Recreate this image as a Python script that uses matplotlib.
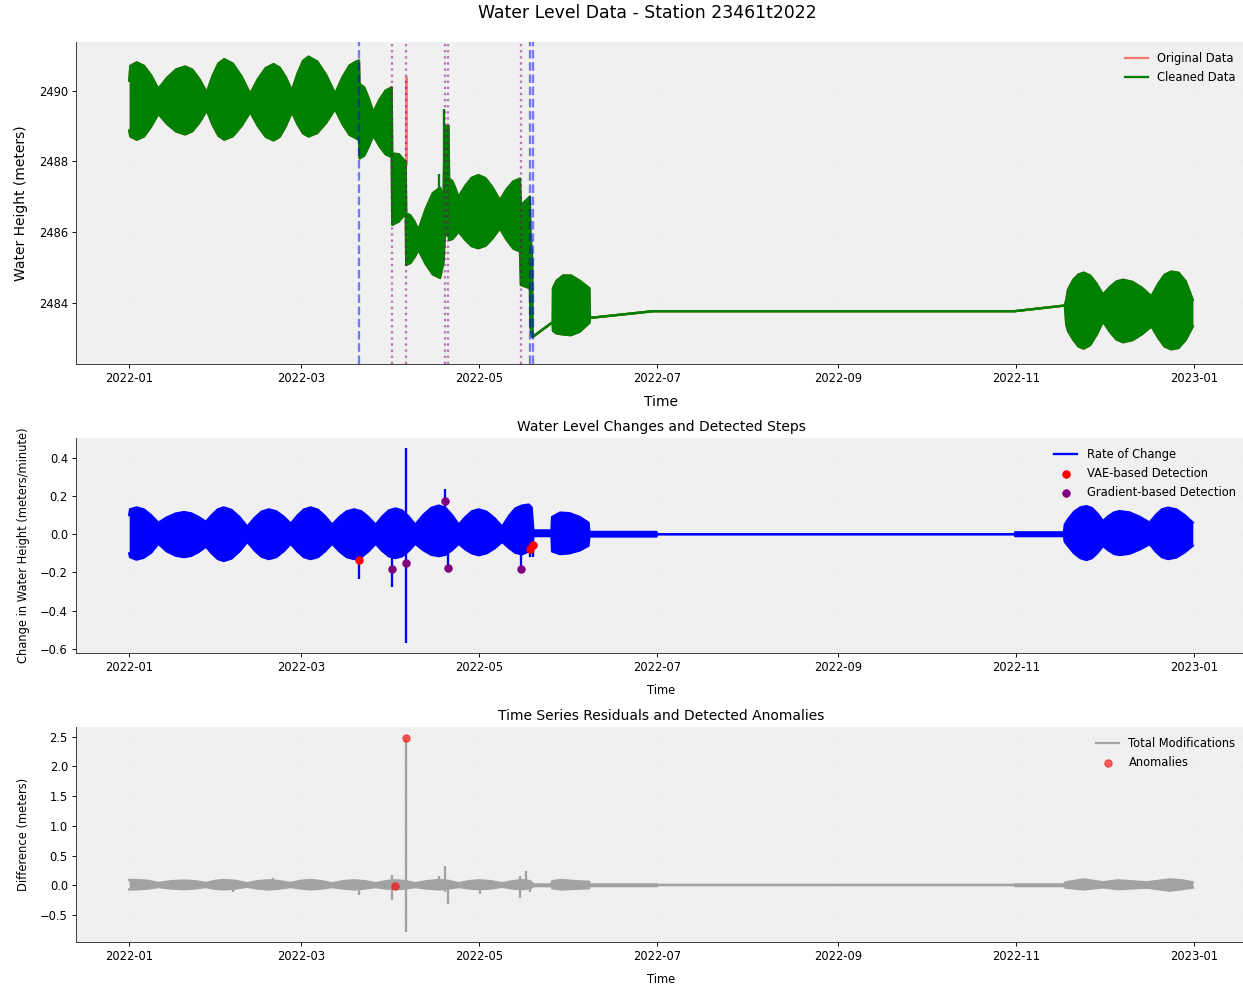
import matplotlib.pyplot as plt
import matplotlib.dates as mdates
import numpy as np
import pandas as pd

# Days since 2022-01-01 for every envelope knot; each band is drawn between
# the upper and lower envelope of the (dense, tidal) signal.
level_days = [0.0, 0.4, 2.6, 5.07, 7.53, 10.0, 13.07, 16.13, 19.2, 21.67, 24.13, 26.6,
              28.6, 30.6, 32.6, 35.57, 38.53, 41.5, 44.17, 46.83, 49.5, 51.6, 53.7, 55.8,
              57.7, 59.6, 61.5, 64.53, 67.57, 70.6, 73.07, 75.53, 78.0, 78.8, 79.0, 80.6,
              82.1, 83.7, 85.8, 87.9, 90.0, 90.2, 92.5, 94.8, 95.0, 96.4, 97.8, 99.2,
              101.7, 104.1, 106.6, 107.8, 108.2, 109.5, 109.7, 110.8, 111.8, 112.9, 115.2,
              117.4, 119.7, 122.2, 124.6, 127.1, 129.4, 131.7, 134.0, 134.3, 137.4, 137.6,
              138.2, 138.3, 145.2, 145.3, 146.5, 148.8, 151.5, 154.5, 157.8, 158.0, 179.7,
              303.6, 320.8, 321.3, 321.9, 323.7, 325.5, 327.3, 329.5, 331.7, 333.9, 336.2,
              338.5, 340.8, 344.0, 347.3, 350.5, 352.8, 355.0, 357.3, 359.8, 362.3, 364.7]
level_upper = [2490.28, 2490.70, 2490.80, 2490.70, 2490.43, 2490.05, 2490.37, 2490.60,
               2490.68, 2490.59, 2490.32, 2489.95, 2490.42, 2490.77, 2490.89, 2490.76,
               2490.40, 2489.91, 2490.33, 2490.64, 2490.75, 2490.65, 2490.38, 2490.00,
               2490.48, 2490.84, 2490.96, 2490.82, 2490.44, 2489.91, 2490.37, 2490.71,
               2490.83, 2490.85, 2490.19, 2490.09, 2489.79, 2489.39, 2489.74, 2490.00,
               2490.09, 2488.22, 2488.20, 2487.98, 2486.53, 2486.47, 2486.30, 2486.06,
               2486.66, 2487.10, 2487.25, 2487.00, 2489.00, 2489.00, 2487.51, 2487.44,
               2487.25, 2486.99, 2487.30, 2487.53, 2487.61, 2487.52, 2487.26, 2486.90,
               2487.21, 2487.43, 2487.51, 2486.75, 2487.00, 2485.96, 2485.20, 2483.03,
               2483.45, 2484.41, 2484.62, 2484.77, 2484.77, 2484.62, 2484.41, 2483.57,
               2483.76, 2483.76, 2483.92, 2484.08, 2484.37, 2484.65, 2484.80, 2484.85,
               2484.77, 2484.54, 2484.23, 2484.44, 2484.60, 2484.65, 2484.59, 2484.42,
               2484.18, 2484.53, 2484.79, 2484.88, 2484.85, 2484.60, 2484.08]
level_lower = [2488.87, 2488.70, 2488.61, 2488.70, 2488.98, 2489.34, 2489.05, 2488.84,
               2488.76, 2488.85, 2489.10, 2489.44, 2489.03, 2488.72, 2488.61, 2488.71,
               2489.00, 2489.39, 2488.99, 2488.69, 2488.59, 2488.69, 2488.99, 2489.39,
               2489.05, 2488.79, 2488.70, 2488.80, 2489.09, 2489.48, 2489.06, 2488.75,
               2488.64, 2488.60, 2488.08, 2488.16, 2488.41, 2488.73, 2488.43, 2488.20,
               2488.12, 2486.20, 2486.30, 2486.53, 2485.07, 2485.12, 2485.28, 2485.49,
               2485.09, 2484.80, 2484.70, 2485.15, 2485.90, 2485.90, 2485.77, 2485.80,
               2485.89, 2486.01, 2485.78, 2485.60, 2485.54, 2485.61, 2485.82, 2486.10,
               2485.78, 2485.53, 2485.45, 2484.50, 2484.41, 2483.30, 2483.03, 2483.03,
               2483.45, 2483.20, 2483.13, 2483.10, 2483.08, 2483.18, 2483.43, 2483.57,
               2483.76, 2483.76, 2483.92, 2483.38, 2483.20, 2482.95, 2482.76, 2482.70,
               2482.80, 2483.09, 2483.47, 2483.18, 2482.96, 2482.88, 2482.94, 2483.11,
               2483.33, 2483.01, 2482.76, 2482.68, 2482.72, 2482.95, 2483.33]

# isolated spikes (day, bottom, top)
original_spike = (94.85, 2487.9, 2490.42)
cleaned_spike_days = [106.4, 108.1]
cleaned_spike_low = [2486.9, 2487.0]
cleaned_spike_high = [2487.65, 2489.48]

rate_days = [0.0, 0.3, 2.5, 5.0, 7.5, 10.0, 12.9, 15.9, 18.8, 21.3, 23.8, 26.3, 28.3,
             30.4, 32.4, 35.1, 37.8, 40.5, 43.0, 45.4, 47.9, 50.4, 52.9, 55.4, 57.7,
             59.9, 62.2, 64.7, 67.1, 69.6, 72.1, 74.6, 77.1, 79.6, 82.0, 84.5, 86.8,
             89.0, 91.3, 93.6, 95.8, 98.1, 100.8, 103.5, 106.2, 108.5, 110.7, 113.0,
             115.3, 117.5, 119.8, 122.5, 125.2, 127.9, 130.2, 132.4, 134.7, 137.0,
             138.0, 138.6, 144.8, 145.0, 147.7, 151.0, 154.5, 157.5, 157.8, 180.8,
             181.0, 303.6, 303.8, 320.5, 320.8, 321.9, 324.0, 326.1, 328.2, 330.1,
             332.0, 333.9, 335.8, 337.7, 339.6, 343.0, 346.5, 349.9, 352.0, 354.1,
             356.2, 359.0, 361.9, 364.7]
rate_upper = [0.10, 0.13, 0.14, 0.13, 0.10, 0.06, 0.088, 0.108, 0.116, 0.109, 0.09,
              0.065, 0.10, 0.13, 0.14, 0.127, 0.09, 0.04, 0.085, 0.118, 0.13, 0.12,
              0.093, 0.055, 0.098, 0.129, 0.14, 0.128, 0.095, 0.05, 0.09, 0.12, 0.13,
              0.12, 0.09, 0.05, 0.093, 0.124, 0.135, 0.124, 0.093, 0.05, 0.10, 0.137,
              0.15, 0.137, 0.10, 0.05, 0.09, 0.12, 0.13, 0.118, 0.085, 0.04, 0.095,
              0.135, 0.15, 0.155, 0.14, 0.02, 0.02, 0.09, 0.113, 0.11, 0.09, 0.06,
              0.012, 0.012, 0.0, 0.0, 0.01, 0.01, 0.05, 0.078, 0.118, 0.14, 0.147,
              0.137, 0.108, 0.069, 0.095, 0.114, 0.121, 0.114, 0.091, 0.061, 0.10,
              0.13, 0.139, 0.13, 0.10, 0.061]
rate_lower = [-0.10, -0.12, -0.133, -0.123, -0.097, -0.05, -0.09, -0.112, -0.12, -0.113,
              -0.093, -0.065, -0.10, -0.13, -0.14, -0.127, -0.09, -0.04, -0.085, -0.118,
              -0.13, -0.12, -0.09, -0.05, -0.09, -0.12, -0.13, -0.12, -0.09, -0.05,
              -0.09, -0.12, -0.13, -0.12, -0.09, -0.05, -0.088, -0.115, -0.125, -0.115,
              -0.088, -0.05, -0.083, -0.107, -0.115, -0.107, -0.083, -0.05, -0.08,
              -0.10, -0.11, -0.10, -0.075, -0.04, -0.072, -0.097, -0.105, -0.09, -0.09,
              -0.01, -0.01, -0.09, -0.104, -0.10, -0.085, -0.06, -0.012, -0.012, 0.0,
              0.0, -0.01, -0.01, -0.04, -0.061, -0.10, -0.125, -0.135, -0.125, -0.098,
              -0.061, -0.085, -0.103, -0.109, -0.102, -0.08, -0.052, -0.091, -0.12,
              -0.13, -0.122, -0.095, -0.06]

rate_spike_days = [78.8, 90.2, 94.85, 108.4, 109.2, 134.3, 137.6, 138.3]
rate_spike_low = [-0.232, -0.275, -0.570, 0.0, -0.178, -0.184, -0.12, -0.12]
rate_spike_high = [0.0, 0.0, 0.452, 0.235, 0.0, 0.0, 0.0, 0.0]

vae_days = [78.8, 137.6, 138.3]
vae_rate = [-0.133, -0.076, -0.054]
grad_days = [90.2, 94.85, 108.4, 109.2, 134.3]
grad_rate = [-0.184, -0.152, 0.175, -0.178, -0.184]

resid_days = [0.0, 2.5, 6.5, 10.0, 14.5, 18.8, 22.5, 26.3, 29.5, 32.4, 36.5, 40.5, 44.0,
              47.9, 51.5, 55.4, 58.8, 62.2, 66.0, 69.6, 73.5, 77.1, 80.8, 84.5, 88.0,
              91.3, 94.7, 98.1, 102.0, 106.2, 109.5, 113.0, 116.5, 119.8, 124.0, 127.9,
              131.5, 134.7, 137.5, 138.6, 144.8, 145.0, 148.0, 153.0, 157.7, 157.9,
              181.0, 181.2, 303.6, 303.8, 320.5, 321.0, 327.2, 334.0, 339.0, 348.9,
              356.8, 361.0, 364.7]
resid_upper = [0.09, 0.09, 0.075, 0.04, 0.07, 0.08, 0.07, 0.04, 0.075, 0.09, 0.075, 0.035,
               0.07, 0.085, 0.07, 0.04, 0.075, 0.09, 0.07, 0.035, 0.07, 0.085, 0.07,
               0.035, 0.07, 0.085, 0.07, 0.035, 0.07, 0.09, 0.075, 0.035, 0.07, 0.085,
               0.07, 0.035, 0.07, 0.09, 0.07, 0.015, 0.015, 0.07, 0.09, 0.07, 0.06,
               0.015, 0.015, 0.005, 0.005, 0.015, 0.015, 0.05, 0.10, 0.05, 0.085, 0.05,
               0.10, 0.085, 0.05]
resid_lower = [-0.07, -0.07, -0.055, -0.03, -0.055, -0.065, -0.055, -0.03, -0.06, -0.07,
               -0.055, -0.025, -0.055, -0.07, -0.055, -0.03, -0.055, -0.07, -0.055,
               -0.03, -0.055, -0.07, -0.055, -0.03, -0.055, -0.065, -0.055, -0.03,
               -0.055, -0.07, -0.055, -0.03, -0.055, -0.065, -0.055, -0.025, -0.055,
               -0.065, -0.05, -0.015, -0.015, -0.05, -0.07, -0.06, -0.05, -0.015,
               -0.015, 0.005, 0.005, -0.015, -0.015, -0.04, -0.07, -0.035, -0.065,
               -0.04, -0.09, -0.065, -0.04]

resid_spike_days = [35.5, 49.3, 78.7, 90.0, 94.85, 106.2, 108.3, 109.3, 120.2, 134.0,
                    136.0, 137.4]
resid_spike_low = [-0.12, 0.0, -0.17, -0.25, -0.79, 0.0, -0.12, -0.32, -0.15, -0.21,
                   0.0, -0.12]
resid_spike_high = [0.0, 0.13, 0.0, 0.18, 2.50, 0.15, 0.32, 0.0, 0.0, 0.15, 0.24, 0.0]

anomaly_days = [94.85, 91.3]
anomaly_diff = [2.48, -0.01]

START = pd.Timestamp('2022-01-01')


def to_time(days):
    return START + pd.to_timedelta(np.asarray(days, dtype=float), unit='D')


def draw_band(ax, days, upper, lower, color, lw=2, label=None, zorder=2):
    t = to_time(days)
    ax.fill_between(t, lower, upper, color=color, lw=0, zorder=zorder)
    ax.plot(t, upper, color=color, lw=lw, label=label, zorder=zorder)
    ax.plot(t, lower, color=color, lw=lw, zorder=zorder)


def style_axis(ax):
    ax.set_facecolor('#f0f0f0')
    ax.grid(True, linestyle=':', alpha=0.12)
    for side in ['top', 'right']:
        ax.spines[side].set_visible(False)
    for side in ['left', 'bottom']:
        ax.spines[side].set_color('0.2')
    ax.xaxis.set_major_locator(mdates.MonthLocator(bymonth=[1, 3, 5, 7, 9, 11]))
    ax.xaxis.set_major_formatter(mdates.DateFormatter('%Y-%m'))


W, H, DPI = 1243, 989, 83
fig = plt.figure(figsize=(W / DPI, H / DPI), dpi=DPI)

left = 76 / W
width = (1246 - 76) / W
ax1 = fig.add_axes([left, (H - 364) / H, width, (364 - 42) / H])
ax2 = fig.add_axes([left, (H - 653) / H, width, (653 - 438) / H])
ax3 = fig.add_axes([left, (H - 942) / H, width, (942 - 727) / H])
for ax in (ax1, ax2, ax3):
    style_axis(ax)

# top: raw vs cleaned water level with detected step locations
draw_band(ax1, level_days, level_upper, level_lower, '#f87878', lw=2,
          label='Original Data', zorder=2)
ax1.vlines(to_time([original_spike[0]]), original_spike[1], original_spike[2],
           color='#f87878', lw=2.5, zorder=2)
draw_band(ax1, level_days, level_upper, level_lower, 'green', lw=2,
          label='Cleaned Data', zorder=3)
ax1.vlines(to_time(cleaned_spike_days), cleaned_spike_low, cleaned_spike_high,
           color='green', lw=2, zorder=3)
for d in vae_days:
    ax1.axvline(to_time([d])[0], color='blue', ls='--', lw=2, alpha=0.5, zorder=4)
for d in grad_days:
    ax1.axvline(to_time([d])[0], color='purple', ls=':', lw=2, alpha=0.5, zorder=4)
ax1.ticklabel_format(axis='y', useOffset=False, style='plain')
ax1.set_xlabel('Time', fontsize=12, labelpad=9)
ax1.set_ylabel('Water Height (meters)', fontsize=12, labelpad=9)
ax1.legend(loc='upper right', frameon=False, fontsize=10)

# middle: rate of change with detections
draw_band(ax2, rate_days, rate_upper, rate_lower, 'blue', lw=2, label='Rate of Change')
ax2.vlines(to_time(rate_spike_days), rate_spike_low, rate_spike_high, color='blue', lw=2)
ax2.scatter(to_time(vae_days), vae_rate, color='red', s=40, zorder=5,
            label='VAE-based Detection')
ax2.scatter(to_time(grad_days), grad_rate, color='purple', s=40, zorder=5,
            label='Gradient-based Detection')
ax2.set_title('Water Level Changes and Detected Steps', fontsize=12)
ax2.set_xlabel('Time', labelpad=9)
ax2.set_ylabel('Change in Water Height (meters/minute)', labelpad=9)
ax2.legend(loc='upper right', frameon=False, fontsize=10)

# bottom: residuals
draw_band(ax3, resid_days, resid_upper, resid_lower, '#a2a2a2', lw=2,
          label='Total Modifications')
ax3.vlines(to_time(resid_spike_days), resid_spike_low, resid_spike_high,
           color='#a2a2a2', lw=2)
ax3.scatter(to_time(anomaly_days), anomaly_diff, color='red', alpha=0.6, s=40,
            zorder=5, label='Anomalies')
ax3.set_title('Time Series Residuals and Detected Anomalies', fontsize=12)
ax3.set_xlabel('Time', labelpad=9)
ax3.set_ylabel('Difference (meters)', labelpad=9)
ax3.legend(loc='upper right', frameon=False, fontsize=10)

fig.text(647 / W, 1 - 13 / H, 'Water Level Data - Station 23461t2022',
         ha='center', va='center', fontsize=15)

fig.savefig('out.png', dpi=DPI)
